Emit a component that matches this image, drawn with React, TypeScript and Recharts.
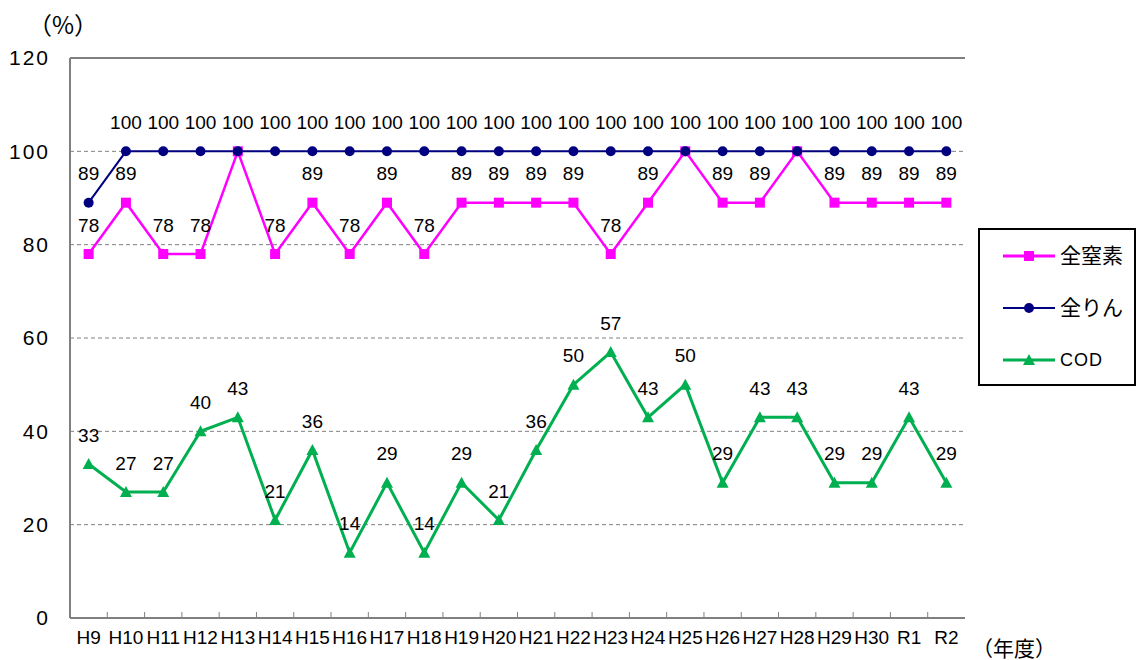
import { LineChart, Line, XAxis, YAxis, CartesianGrid, ReferenceLine, Legend, LabelList } from 'recharts'

const years = ['H9', 'H10', 'H11', 'H12', 'H13', 'H14', 'H15', 'H16', 'H17', 'H18', 'H19', 'H20', 'H21', 'H22', 'H23', 'H24', 'H25', 'H26', 'H27', 'H28', 'H29', 'H30', 'R1', 'R2']
const nitrogen = [78, 89, 78, 78, 100, 78, 89, 78, 89, 78, 89, 89, 89, 89, 78, 89, 100, 89, 89, 100, 89, 89, 89, 89]
const phosphorus = [89, 100, 100, 100, 100, 100, 100, 100, 100, 100, 100, 100, 100, 100, 100, 100, 100, 100, 100, 100, 100, 100, 100, 100]
const cod = [33, 27, 27, 40, 43, 21, 36, 14, 29, 14, 29, 21, 36, 50, 57, 43, 50, 29, 43, 43, 29, 29, 43, 29]
const yTicks = [0, 20, 40, 60, 80, 100, 120]
const seriesOrder = ['n', 'p', 'cod']

const data = years.map((y, i) => ({ year: y, n: nitrogen[i], p: phosphorus[i], cod: cod[i] }))

const NUM_FONT = '"Liberation Sans", Arial, sans-serif'
const JP_FONT = '"Noto Sans CJK JP", sans-serif'
const GRAY = '#808080'

const colors: Record<string, string> = { n: '#FF00FF', p: '#000080', cod: '#00B050' }

function Marker({ kind, cx, cy }: { kind: string; cx: number; cy: number }) {
  if (kind === 'n') return <rect x={cx - 5} y={cy - 5} width={10} height={10} fill={colors.n} />
  if (kind === 'p') return <circle cx={cx} cy={cy} r={5} fill={colors.p} />
  return <polygon points={`${cx},${cy - 6} ${cx + 6},${cy + 5} ${cx - 6},${cy + 5}`} fill={colors.cod} />
}

const makeDot = (kind: string) => (props: any) => (
  <Marker key={`${kind}-${props.index}`} kind={kind} cx={props.cx} cy={props.cy} />
)

const makeLabel = (skip100: boolean) => (props: any) => {
  const { x, y, value, index } = props
  if (skip100 && value === 100) return null
  return (
    <text key={index} x={x} y={y - 29} dy="0.35em" textAnchor="middle" fontSize={19} fontFamily={NUM_FONT} fill="#000">
      {value}
    </text>
  )
}

// category label plus a small inward tick at the left edge of each band
function YearTick(props: any) {
  const { x, y, payload, index, width, visibleTicksCount } = props
  const band = width / (visibleTicksCount || years.length)
  const left = x - band / 2
  return (
    <g>
      {index > 0 && <line x1={left} x2={left} y1={y - 1} y2={y - 6} stroke={GRAY} strokeWidth={1} />}
      <text x={x} y={y + 13} dy="0.71em" textAnchor="middle" fontSize={19} fontFamily={NUM_FONT} fill="#000">
        {payload.value}
      </text>
    </g>
  )
}

function LegendBox({ payload }: any) {
  const items = [...(payload || [])].sort(
    (a: any, b: any) => seriesOrder.indexOf(a.dataKey) - seriesOrder.indexOf(b.dataKey)
  )
  return (
    <div style={{ width: 158, height: 158, border: '2px solid #000', boxSizing: 'border-box', background: '#fff' }}>
      <svg width={154} height={154} style={{ display: 'block' }}>
        {items.map((e: any, i: number) => {
          const cy = 26 + i * 52
          const key = e.dataKey as string
          return (
            <g key={key}>
              <line x1={23} x2={75} y1={cy} y2={cy} stroke={colors[key]} strokeWidth={key === 'p' ? 2 : 3} />
              <Marker kind={key} cx={49} cy={cy} />
              <text x={80} y={cy} dy="0.35em" fontSize={key === 'cod' ? 18 : 21} fontFamily={key === 'cod' ? NUM_FONT : JP_FONT} fill="#000" letterSpacing={key === 'cod' ? 1 : 0}>
                {e.value}
              </text>
            </g>
          )
        })}
      </svg>
    </div>
  )
}

export default function App() {
  return (
    <div style={{ position: 'absolute', left: 0, top: 0, width: 1137, height: 660, background: '#fff' }}>
      <LineChart width={1137} height={660} data={data} margin={{ top: 58, right: 172, left: 0, bottom: 0 }}>
        <CartesianGrid vertical={false} stroke={GRAY} strokeDasharray="4 3" />
        <XAxis
          dataKey="year"
          scale="band"
          height={42}
          axisLine={{ stroke: GRAY, strokeWidth: 2 }}
          tickLine={false}
          tickSize={0}
          tickMargin={0}
          interval={0}
          tick={<YearTick />}
        />
        <XAxis xAxisId="edge" type="number" domain={[0, 24]} allowDataOverflow hide />
        <YAxis
          width={70}
          domain={[0, 120]}
          ticks={yTicks}
          axisLine={{ stroke: GRAY, strokeWidth: 2 }}
          tickLine={false}
          tickSize={0}
          tickMargin={20}
          tick={{ fontSize: 21, fontFamily: NUM_FONT, fill: '#000', letterSpacing: 2 }}
        />
        <ReferenceLine y={120} stroke={GRAY} strokeWidth={2} />
        <ReferenceLine xAxisId="edge" x={24} stroke={GRAY} strokeWidth={2} />
        <Line dataKey="n" name="全窒素" stroke={colors.n} strokeWidth={2.5} dot={makeDot('n')} isAnimationActive={false}>
          <LabelList dataKey="n" content={makeLabel(true)} />
        </Line>
        <Line dataKey="p" name="全りん" stroke={colors.p} strokeWidth={2} dot={makeDot('p')} isAnimationActive={false}>
          <LabelList dataKey="p" content={makeLabel(false)} />
        </Line>
        <Line dataKey="cod" name="COD" stroke={colors.cod} strokeWidth={3} dot={makeDot('cod')} isAnimationActive={false}>
          <LabelList dataKey="cod" content={makeLabel(false)} />
        </Line>
        <Legend
          layout="vertical"
          align="center"
          verticalAlign="middle"
          content={<LegendBox />}
          wrapperStyle={{ left: 978, top: 228, width: 158, height: 158 }}
        />
      </LineChart>
      <div style={{ position: 'absolute', left: 28, top: 6, fontSize: 24, fontFamily: JP_FONT, whiteSpace: 'nowrap' }}>（%）</div>
      <div style={{ position: 'absolute', left: 972, top: 632, fontSize: 21, fontFamily: JP_FONT, whiteSpace: 'nowrap' }}>（年度）</div>
    </div>
  )
}
